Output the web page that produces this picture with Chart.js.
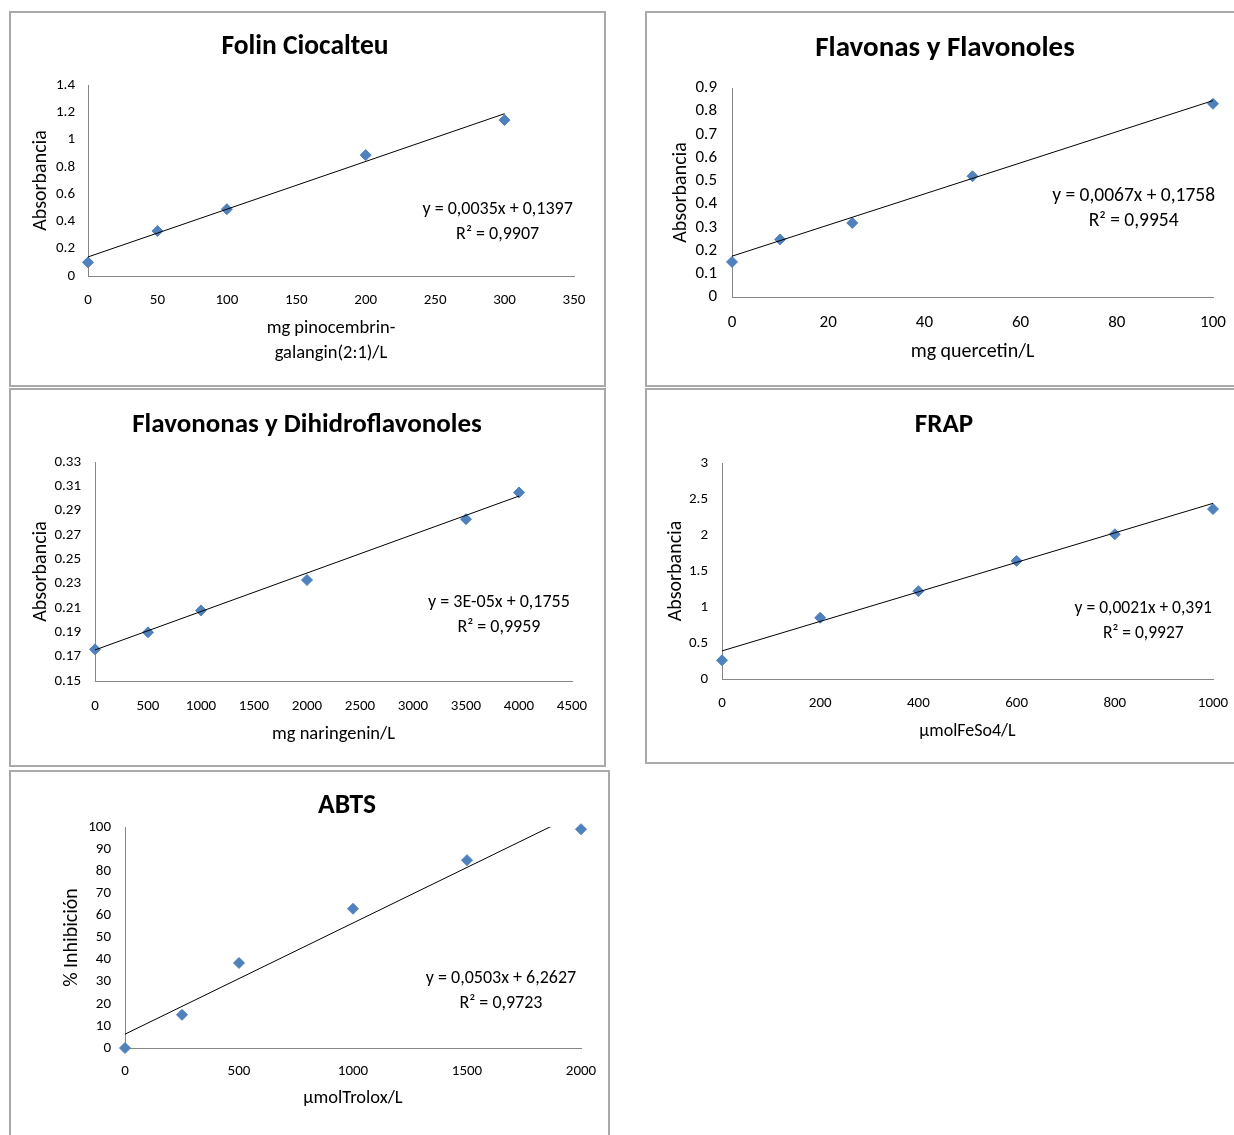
<!DOCTYPE html>
<html>
<head>
<meta charset="utf-8">
<script src="https://cdn.jsdelivr.net/npm/chart.js@4.4.0/dist/chart.umd.min.js"></script>
<style>
  body { margin: 0; background: #fff; width: 1234px; height: 1135px; overflow: hidden; position: relative; }
  .box { position: absolute; border: 2px solid #a9a9a9; box-sizing: border-box; }
  canvas { position: absolute; }
</style>
</head>
<body>
<div class="box" style="left:9px;top:11px;width:597px;height:376px"></div>
<div class="box" style="left:645px;top:11px;width:620px;height:376px"></div>
<div class="box" style="left:9px;top:388px;width:597px;height:379px"></div>
<div class="box" style="left:645px;top:388px;width:620px;height:376px"></div>
<div class="box" style="left:9px;top:770px;width:601px;height:400px"></div>

<canvas id="c1" width="600" height="374" style="left:10px;top:12px;width:600px;height:374px"></canvas>
<canvas id="c2" width="598" height="374" style="left:646px;top:12px;width:598px;height:374px"></canvas>
<canvas id="c3" width="600" height="377" style="left:10px;top:389px;width:600px;height:377px"></canvas>
<canvas id="c4" width="598" height="374" style="left:646px;top:389px;width:598px;height:374px"></canvas>
<canvas id="c5" width="674" height="364" style="left:10px;top:771px;width:674px;height:364px"></canvas>

<script>
const FONT = "Carlito, Lato, 'Open Sans', sans-serif";

// ---- Folin Ciocalteu ----
const folinX = [0, 50, 100, 200, 300];
const folinY = [0.10, 0.33, 0.49, 0.886, 1.143];
const folinTrendX = [0, 300];
const folinTrendY = [0.1397, 1.1897];
const folinXTicks = [0, 50, 100, 150, 200, 250, 300, 350];
const folinYTicks = [0, 0.2, 0.4, 0.6, 0.8, 1, 1.2, 1.4];
const folinEq = ['y = 0,0035x + 0,1397', 'R² = 0,9907'];

// ---- Flavonas y Flavonoles ----
const flavX = [0, 10, 25, 50, 100];
const flavY = [0.151, 0.248, 0.319, 0.52, 0.832];
const flavTrendX = [0, 100];
const flavTrendY = [0.1758, 0.8458];
const flavXTicks = [0, 20, 40, 60, 80, 100];
const flavYTicks = [0, 0.1, 0.2, 0.3, 0.4, 0.5, 0.6, 0.7, 0.8, 0.9];
const flavEq = ['y = 0,0067x + 0,1758', 'R² = 0,9954'];

// ---- Flavononas y Dihidroflavonoles ----
const dihX = [0, 500, 1000, 2000, 3500, 4000];
const dihY = [0.176, 0.19, 0.208, 0.233, 0.283, 0.305];
const dihTrendX = [0, 4000];
const dihTrendY = [0.1755, 0.302];
const dihXTicks = [0, 500, 1000, 1500, 2000, 2500, 3000, 3500, 4000, 4500];
const dihYTicks = [0.15, 0.17, 0.19, 0.21, 0.23, 0.25, 0.27, 0.29, 0.31, 0.33];
const dihEq = ['y = 3E-05x + 0,1755', 'R² = 0,9959'];

// ---- FRAP ----
const frapX = [0, 200, 400, 600, 800, 1000];
const frapY = [0.26, 0.85, 1.22, 1.64, 2.01, 2.36];
const frapTrendX = [0, 1000];
const frapTrendY = [0.39, 2.44];
const frapXTicks = [0, 200, 400, 600, 800, 1000];
const frapYTicks = [0, 0.5, 1, 1.5, 2, 2.5, 3];
const frapEq = ['y = 0,0021x + 0,391', 'R² = 0,9927'];

// ---- ABTS ----
const abtsX = [0, 250, 500, 1000, 1500, 2000];
const abtsY = [0, 15, 38.5, 63, 85, 99];
const abtsTrendX = [0, 2000];
const abtsTrendY = [6.2627, 106.8627];
const abtsXTicks = [0, 500, 1000, 1500, 2000];
const abtsYTicks = [0, 10, 20, 30, 40, 50, 60, 70, 80, 90, 100];
const abtsEq = ['y = 0,0503x + 6,2627', 'R² = 0,9723'];

// texto de la ecuación de la línea de tendencia
const eqPlugin = {
  id: 'eqLabel',
  afterDatasetsDraw(chart, args, opts) {
    const ctx = chart.ctx;
    const px = chart.scales.x.getPixelForValue(opts.x);
    const py = chart.scales.y.getPixelForValue(opts.y);
    ctx.save();
    ctx.fillStyle = '#000';
    ctx.font = opts.size + 'px ' + FONT;
    ctx.textAlign = 'center';
    ctx.textBaseline = 'middle';
    opts.lines.forEach((t, i) => ctx.fillText(t, px, py + 1 + i * 25));
    ctx.restore();
  }
};

function pts(xs, ys) {
  return xs.map((x, i) => ({ x: x, y: ys[i] }));
}

function makeChart(id, p) {
  const tickFont = { family: FONT, size: p.tickSize || 15 };
  const scales = {
    x: {
      type: 'linear',
      min: p.xTicks[0], max: p.xTicks[p.xTicks.length - 1],
      afterBuildTicks: a => { a.ticks = p.xTicks.map(v => ({ value: v })); },
      afterFit: s => { s.height = p.xH; },
      ticks: { callback: v => String(v), padding: p.xPad, font: tickFont, color: '#000', maxRotation: 0, autoSkip: false },
      grid: { display: false, drawTicks: false },
      border: { color: '#868686', width: 1 },
      title: {
        display: true, text: p.xTitle, color: '#000',
        font: { family: FONT, size: p.axSize || 18.5, lineHeight: p.xLH || '20px' },
        padding: { top: 0, bottom: p.xtPad }
      }
    },
    y: {
      type: 'linear',
      min: p.yTicks[0], max: p.yTicks[p.yTicks.length - 1],
      afterBuildTicks: a => { a.ticks = p.yTicks.map(v => ({ value: v })); },
      afterFit: s => { s.width = p.yW; },
      ticks: { callback: v => String(v), padding: p.yPad, font: tickFont, color: '#000', autoSkip: false },
      grid: { display: false, drawTicks: false },
      border: { color: '#868686', width: 1 },
      title: {
        display: true, text: p.yTitle, color: '#000',
        font: { family: FONT, size: 20, lineHeight: '20px' },
        padding: { top: p.ytPad, bottom: 0 }
      }
    }
  };
  // eje vacío a la derecha solo para centrar el título
  if (p.rW) {
    scales.y2 = {
      position: 'right', display: true,
      ticks: { display: false },
      grid: { display: false, drawTicks: false },
      border: { display: false },
      afterFit: s => { s.width = p.rW; }
    };
  }
  return new Chart(document.getElementById(id), {
    type: 'scatter',
    data: {
      datasets: [
        {
          data: pts(p.trendX, p.trendY),
          showLine: true, borderColor: '#000', borderWidth: 1,
          pointRadius: 0, pointHoverRadius: 0
        },
        {
          data: pts(p.x, p.y),
          pointStyle: 'rectRot', pointRadius: 5.5,
          backgroundColor: '#4f81bd', borderColor: '#4f81bd', borderWidth: 1,
          clip: false
        }
      ]
    },
    options: {
      responsive: false,
      animation: false,
      events: [],
      layout: { padding: { left: p.pl, right: p.pr, top: 0, bottom: 0 } },
      plugins: {
        legend: { display: false },
        tooltip: { enabled: false },
        title: {
          display: true, text: p.title, color: '#000',
          font: { family: FONT, size: p.tSize, weight: 'bold', lineHeight: 1 },
          padding: { top: p.tTop, bottom: p.tBot }
        },
        eqLabel: { lines: p.eq, x: p.eqX, y: p.eqY, size: p.eqSize || 18 }
      },
      scales: scales
    },
    plugins: [eqPlugin]
  });
}

makeChart('c1', {
  title: 'Folin Ciocalteu', x: folinX, y: folinY, trendX: folinTrendX, trendY: folinTrendY,
  xTicks: folinXTicks, yTicks: folinYTicks, eq: folinEq, eqX: 295, eqY: 0.498,
  xTitle: ['mg pinocembrin-', 'galangin(2:1)/L'], xLH: '25px', yTitle: 'Absorbancia',
  pl: 26, pr: 36, yW: 52, xH: 110, tSize: 27.5, tTop: 21.25, tBot: 24.25,
  ytPad: -5, xtPad: 20.5, xPad: 15, yPad: 13
});

makeChart('c2', {
  title: 'Flavonas y Flavonoles', x: flavX, y: flavY, trendX: flavTrendX, trendY: flavTrendY,
  xTicks: flavXTicks, yTicks: flavYTicks, eq: flavEq, eqX: 83.5, eqY: 0.439, eqSize: 19.5,
  xTitle: 'mg quercetin/L', axSize: 20, yTitle: 'Absorbancia', tickSize: 17,
  pl: 31, pr: 31, yW: 55, xH: 89, tSize: 29, tTop: 22.5, tBot: 24.5,
  ytPad: -6, xtPad: 24, xPad: 16, yPad: 15
});

makeChart('c3', {
  title: 'Flavononas y Dihidroflavonoles', x: dihX, y: dihY, trendX: dihTrendX, trendY: dihTrendY,
  xTicks: dihXTicks, yTicks: dihYTicks, eq: dihEq, eqX: 3811, eqY: 0.215,
  xTitle: 'mg naringenin/L', yTitle: 'Absorbancia',
  pl: 32, pr: 38, yW: 53, xH: 85, tSize: 27, tTop: 22.5, tBot: 23.5,
  ytPad: -11, xtPad: 22, xPad: 16, yPad: 14
});

makeChart('c4', {
  title: 'FRAP', x: frapX, y: frapY, trendX: frapTrendX, trendY: frapTrendY,
  xTicks: frapXTicks, yTicks: frapYTicks, eq: frapEq, eqX: 858, eqY: 0.986, eqSize: 17.5,
  xTitle: 'µmolFeSo4/L', axSize: 18, yTitle: 'Absorbancia',
  pl: 29, pr: 31, yW: 47, xH: 84, tSize: 27, tTop: 22.5, tBot: 24.5,
  ytPad: -9, xtPad: 22, xPad: 15, yPad: 14
});

makeChart('c5', {
  title: 'ABTS', x: abtsX, y: abtsY, trendX: abtsTrendX, trendY: abtsTrendY,
  xTicks: abtsXTicks, yTicks: abtsYTicks, eq: abtsEq, eqX: 1649, eqY: 32.1,
  xTitle: 'µmolTrolox/L', yTitle: '% Inhibición',
  pl: 0, pr: 0, rW: 103, yW: 115, xH: 87, tSize: 27.5, tTop: 21.25, tBot: 7.25,
  ytPad: 52, xtPad: 27, xPad: 14, yPad: 14
});
</script>
</body>
</html>
